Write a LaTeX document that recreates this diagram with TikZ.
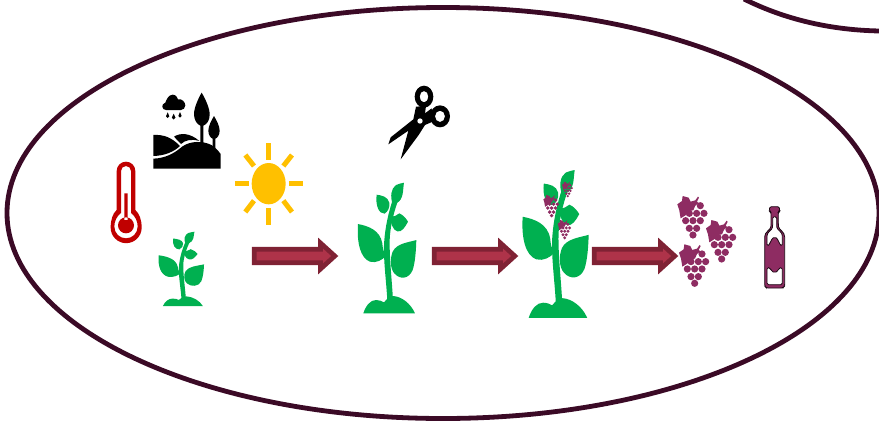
\documentclass[tikz,border=0pt]{standalone}
\definecolor{ringc}{HTML}{3B0A26}
\definecolor{leafc}{HTML}{00B050}
\definecolor{sunc}{HTML}{FFC000}
\definecolor{thermc}{HTML}{C00000}
\definecolor{grapec}{HTML}{8E2C62}
\definecolor{arrowout}{HTML}{7F2234}
\definecolor{arrowin}{HTML}{AE3349}
\tikzset{
  ring/.style={draw=ringc,line width=4.8pt},
  plantfill/.style={fill=leafc,draw=none},
  icon/.style={fill=black,draw=none},
  ray/.style={draw=sunc,line width=5pt},
  flowarrow/.style={fill=arrowin,draw=arrowout,line width=4.7pt,miter limit=10},
  grapefill/.style={fill=grapec,draw=none}
}
\newcommand{\plantshape}[4]{%
\begin{scope}[shift={(#1,#2)},xscale=#3,yscale=#4,shift={(-54,-308)}]
 \path[plantfill] (70,700) .. controls (78,675) and (92,660) .. (108,660) .. controls (118,660) and (126,663) .. (132,667)
   .. controls (142,655) and (150,648) .. (160,648) .. controls (185,650) and (212,670) .. (225,700) -- cycle;
 \path[plantfill] (142,665) .. controls (140,610) and (128,530) .. (133,480) .. controls (136,440) and (146,395) .. (158,360)
   -- (174,362) .. controls (160,400) and (150,445) .. (149,480) .. controls (148,540) and (157,610) .. (159,665) -- cycle;
 \path[plantfill] (54,432) .. controls (85,438) and (120,450) .. (127,490) .. controls (128,505) and (130,515) .. (138,527)
   .. controls (128,540) and (108,550) .. (90,545) .. controls (62,535) and (50,490) .. (54,432) -- cycle;
 \path[plantfill] (229,480) .. controls (205,487) and (170,490) .. (158,515) .. controls (150,535) and (150,565) .. (163,580)
   .. controls (180,600) and (207,597) .. (218,570) .. controls (226,545) and (228,510) .. (229,480) -- cycle;
 \path[plantfill] (110,344) .. controls (125,346) and (144,350) .. (148,368) .. controls (150,382) and (144,394) .. (134,401)
   .. controls (116,402) and (106,375) .. (110,344) -- cycle;
 \path[plantfill] (192,308) .. controls (188,330) and (192,358) .. (170,369) -- (158,372) .. controls (150,350) and (153,325) .. (168,315) .. controls (178,311) and (185,309) .. (192,308) -- cycle;
 \path[plantfill] (150,410) -- (165,408) -- (178,400) .. controls (190,405) and (198,415) .. (204,425)
   .. controls (195,442) and (185,457) .. (172,454) .. controls (158,450) and (153,430) .. (150,410) -- cycle;
\end{scope}}
\newcommand{\grapeshape}[4]{%
\begin{scope}[shift={(#1,#2)},xscale=#3,yscale=#4,shift={(-262,-33)}]
 \path[grapefill] (262,58) -- (276,48) -- (278,33) -- (296,38) -- (302,50) -- (316,46) -- (324,35) -- (327,38) -- (321,50)
   -- (326,54) -- (316,62) -- (310,76) -- (296,78) -- (288,90) -- (272,100) -- (268,76) -- cycle;
 \foreach \gx/\gy in {331/62,298/85,320/85,342/85,287/107,309/107,331/107,298/130,320/130,309/150}
   \path[grapefill] (\gx,\gy) circle [radius=10.8];
\end{scope}}
\begin{document}
\begin{tikzpicture}[x=1pt,y=-1pt]
\useasboundingbox (0,0) rectangle (879,421);
\begin{scope}
\clip (0,0) rectangle (879,421);
\draw[ring] (443,213) ellipse [x radius=436,y radius=205.5];
\draw[ring] (744,-1) .. controls (780,17) and (825,30) .. (880,31);
\end{scope}
\begin{scope}[shift={(100,80)},scale=1/3]
 \path[fill=thermc,even odd rule] (50,390) -- (50,273) arc[start angle=180,end angle=360,radius=28] -- (106,390)
   .. controls (118,400) and (125,420) .. (125,443) arc[start angle=0,end angle=180,radius=46.5] .. controls (32,420) and (38,400) .. (50,390) -- cycle
   (63,399) -- (63,273) arc[start angle=180,end angle=360,radius=15] -- (93,399)
   .. controls (106,408) and (113,425) .. (113,440) arc[start angle=0,end angle=180,radius=35] .. controls (43,425) and (50,408) .. (63,399) -- cycle;
 \path[fill=thermc] (73,340) rectangle (83,420) (78,436) circle [radius=24];
 \path[fill=sunc] (506,311) ellipse [x radius=51,y radius=62];
 \foreach \ax/\ay/\bx/\by in {506/189/506/240,506/384/506/435,405/311/447/311,567/311/609/311,436/225/462/258,576/225/550/258,462/362/436/396,550/362/576/396}
   \draw[ray] (\ax,\ay) -- (\bx,\by);
 \path[icon] (160,266) -- (160,236) .. controls (195,235) and (222,220) .. (240,205) .. controls (262,185) and (295,182) .. (322,190) .. controls (340,195) and (352,208) .. (362,222) -- (362,266) -- cycle;
 \path[icon] (160,165) .. controls (190,163) and (215,172) .. (240,198) .. controls (222,215) and (195,227) .. (160,228) -- cycle;
 \path[icon] (222,170) .. controls (240,158) and (270,158) .. (298,183) .. controls (275,176) and (255,180) .. (243,192) -- cycle;
 \path[icon] (305,38) .. controls (295,55) and (281,85) .. (282,105) .. controls (283,122) and (292,133) .. (301,137) -- (301,190) -- (310,190) -- (310,137)
   .. controls (320,133) and (329,122) .. (329,105) .. controls (330,85) and (315,55) .. (305,38) -- cycle;
 \path[icon] (342,108) .. controls (335,120) and (325,138) .. (325,152) .. controls (325,165) and (332,174) .. (338,176) -- (338,205) -- (346,205) -- (346,176)
   .. controls (352,174) and (359,165) .. (359,152) .. controls (359,138) and (349,120) .. (342,108) -- cycle;
 \path[icon] (198,90) .. controls (185,90) and (182,72) .. (196,68) .. controls (200,58) and (205,45) .. (218,44) .. controls (228,44) and (232,52) .. (234,58)
   .. controls (245,55) and (256,66) .. (256,76) .. controls (256,84) and (250,90) .. (243,90) -- cycle;
 \foreach \dx/\dy/\dr in {203/109/5,221/113/5.5,240/108/5}
   \path[icon] (\dx,\dy-12) -- (\dx+\dr,\dy) arc[start angle=0,end angle=180,radius=\dr] -- cycle;
\end{scope}
\begin{scope}[shift={(340,80)},scale=1/3]
 \path[icon,even odd rule] (252,50) ellipse [x radius=28,y radius=33] (252,50) ellipse [x radius=13,y radius=17];
 \path[icon,even odd rule] (300,109) ellipse [x radius=30,y radius=33] (300,109) ellipse [x radius=15,y radius=17];
 \path[icon] (228,80) -- (258,78) -- (255,100) -- (275,85) -- (278,125) -- (255,135) -- (236,165) -- (182,238) -- (205,152) -- (145,193) -- (152,172) -- (220,118) -- cycle;
 \path[fill=white] (240,123) circle [radius=8];
\end{scope}
\plantshape{158.7}{231.7}{0.259}{0.19}
\plantshape{358}{182.7}{0.3333}{0.3333}
\plantshape{522.7}{170}{0.377}{0.377}
\foreach \ax in {252,432,592}{
 \draw[flowarrow] (\ax+2.3,249.3) -- (\ax+68.5,249.3) -- (\ax+68.5,243) -- (\ax+82.8,256) -- (\ax+68.5,269) -- (\ax+68.5,262.7) -- (\ax+2.3,262.7) -- cycle;
}
\grapeshape{677.3}{196}{0.3333}{0.3333}
\grapeshape{706}{220}{0.3333}{0.3333}
\grapeshape{679}{244.3}{0.3333}{0.3333}
\grapeshape{543.3}{195}{0.177}{0.176}
\grapeshape{557.7}{220}{0.148}{0.152}
\grapeshape{562}{181.7}{0.122}{0.123}
\begin{scope}[shift={(755,200)},scale=1/3]
 \path[fill=grapec,draw=black!80!grapec,line width=0.8pt,even odd rule,rounded corners=1.5pt]
   (44,20) -- (73,20) -- (74,34) -- (70,36) -- (70,75) .. controls (72,90) and (89,95) .. (89,115) -- (89,258) -- (84,264) -- (34,264) -- (29,258) -- (29,115)
   .. controls (29,95) and (47,90) .. (48,75) -- (48,36) -- (43,34) -- cycle
   (53,50) -- (65,50) -- (65,78) .. controls (67,90) and (82,96) .. (82,112) -- (82,138) .. controls (74,134) and (68,115) .. (59,112) .. controls (50,115) and (44,134) .. (36,138) -- (36,112) .. controls (36,96) and (51,90) .. (53,78) -- cycle
   (36,203) .. controls (44,203) and (52,215) .. (59,218) .. controls (66,215) and (74,203) .. (82,203) -- (82,254) -- (36,254) -- cycle;
\end{scope}
\end{tikzpicture}
\end{document}
